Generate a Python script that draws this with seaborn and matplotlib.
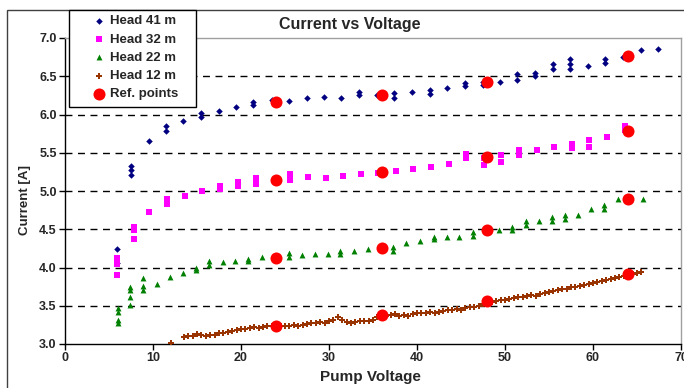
import matplotlib
matplotlib.use("Agg")
import matplotlib.pyplot as plt
import seaborn as sns
from matplotlib.patches import Rectangle

# Head 41 m
h41_v = [5.9, 5.9, 7.5, 7.5, 7.5, 9.5, 11.5, 11.5, 13.4, 15.5, 15.5, 17.5, 19.4,
         21.4, 21.4, 23.5, 25.5, 27.5, 29.4, 31.4, 33.4, 33.4, 35.4, 37.4, 37.4,
         39.4, 41.5, 41.5, 43.4, 45.5, 45.5, 47.5, 47.5, 49.4, 51.4, 51.4, 53.4,
         53.4, 55.5, 55.5, 57.4, 57.4, 57.4, 59.4, 61.4, 61.4, 63.4, 65.4, 67.4]
h41_a = [4.24, 4.06, 5.33, 5.27, 5.21, 5.65, 5.85, 5.78, 5.92, 6.02, 5.97, 6.05, 6.10,
         6.16, 6.13, 6.19, 6.17, 6.21, 6.23, 6.22, 6.29, 6.26, 6.26, 6.28, 6.22,
         6.29, 6.32, 6.27, 6.35, 6.41, 6.37, 6.43, 6.38, 6.43, 6.53, 6.45, 6.54,
         6.50, 6.66, 6.60, 6.73, 6.66, 6.59, 6.63, 6.73, 6.67, 6.75, 6.84, 6.85]

# Head 32 m
h32_v = [5.9, 5.9, 5.9, 7.8, 7.8, 7.8, 9.6, 11.6, 11.6, 13.6, 15.6, 17.6, 17.6,
         19.7, 19.7, 21.7, 21.7, 25.6, 25.6, 27.6, 29.7, 31.6, 33.6, 35.6, 37.6,
         39.6, 41.6, 43.6, 45.6, 45.6, 47.6, 47.6, 49.5, 49.5, 51.6, 51.6, 53.6,
         55.6, 57.6, 57.6, 59.6, 59.6, 61.6, 63.6, 63.6]
h32_a = [4.12, 4.05, 3.90, 4.53, 4.49, 4.37, 4.73, 4.90, 4.83, 4.94, 5.00, 5.07, 5.02,
         5.12, 5.07, 5.17, 5.09, 5.22, 5.14, 5.18, 5.17, 5.19, 5.22, 5.24, 5.26,
         5.29, 5.31, 5.35, 5.49, 5.43, 5.43, 5.34, 5.47, 5.38, 5.53, 5.47, 5.54,
         5.57, 5.62, 5.56, 5.67, 5.58, 5.70, 5.85, 5.80]

# Head 22 m
h22_v = [6.0, 6.0, 6.0, 6.0, 7.4, 7.4, 7.4, 7.4, 8.9, 8.9, 8.9, 10.4, 11.9, 13.4,
         14.9, 14.9, 16.4, 16.4, 17.9, 19.3, 20.8, 20.8, 22.4, 23.9, 25.4, 25.4,
         26.9, 28.4, 29.9, 31.3, 31.3, 32.8, 34.4, 35.9, 37.3, 37.3, 38.8, 40.3,
         41.9, 41.9, 43.4, 44.8, 46.4, 46.4, 47.9, 49.3, 50.8, 50.8, 52.4, 52.4,
         53.9, 55.3, 55.3, 56.8, 56.8, 58.3, 59.8, 61.3, 61.3, 62.8, 64.2, 65.7]
h22_a = [3.47, 3.42, 3.31, 3.27, 3.74, 3.70, 3.61, 3.51, 3.86, 3.76, 3.70, 3.79, 3.87, 3.93,
         4.00, 3.97, 4.08, 4.03, 4.07, 4.08, 4.11, 4.08, 4.14, 4.14, 4.19, 4.14,
         4.16, 4.18, 4.18, 4.21, 4.18, 4.22, 4.24, 4.26, 4.27, 4.22, 4.32, 4.35,
         4.40, 4.37, 4.40, 4.40, 4.47, 4.41, 4.49, 4.49, 4.53, 4.49, 4.61, 4.56,
         4.61, 4.66, 4.61, 4.69, 4.64, 4.69, 4.76, 4.82, 4.77, 4.90, 4.90, 4.90]

# Head 12 m
h12_v = [12.0, 13.5, 14.0, 14.5, 15.0, 15.5, 16.0, 16.5, 17.0, 17.5, 18.0, 18.5, 19.0,
         19.5, 20.0, 20.5, 21.0, 21.5, 22.0, 22.5, 23.0, 23.5, 24.0, 24.5, 25.0,
         25.5, 26.0, 26.5, 27.0, 27.5, 28.0, 28.5, 29.0, 29.5, 30.0, 30.5, 31.0,
         31.5, 32.0, 32.5, 33.0, 33.5, 34.0, 34.5, 35.0, 35.5, 36.0, 36.5, 37.0,
         37.5, 38.0, 38.5, 39.0, 39.5, 40.0, 40.5, 41.0, 41.5, 42.0, 42.5, 43.0,
         43.5, 44.0, 44.5, 45.0, 45.5, 46.0, 46.5, 47.0, 47.5, 48.0, 48.5, 49.0,
         49.5, 50.0, 50.5, 51.0, 51.5, 52.0, 52.5, 53.0, 53.5, 54.0, 54.5, 55.0,
         55.5, 56.0, 56.5, 57.0, 57.5, 58.0, 58.5, 59.0, 59.5, 60.0, 60.5, 61.0,
         61.5, 62.0, 62.5, 63.0, 63.5, 64.0, 64.5, 65.0, 65.5]
h12_a = [3.01, 3.09, 3.10, 3.11, 3.13, 3.12, 3.11, 3.12, 3.12, 3.14, 3.15, 3.16, 3.17,
         3.18, 3.20, 3.19, 3.21, 3.22, 3.21, 3.22, 3.23, 3.23, 3.24, 3.23, 3.24,
         3.24, 3.25, 3.24, 3.25, 3.26, 3.28, 3.28, 3.29, 3.28, 3.30, 3.32, 3.35,
         3.31, 3.29, 3.28, 3.29, 3.30, 3.30, 3.30, 3.32, 3.35, 3.37, 3.37, 3.38,
         3.39, 3.37, 3.38, 3.37, 3.39, 3.40, 3.41, 3.40, 3.42, 3.41, 3.42, 3.43,
         3.44, 3.44, 3.46, 3.45, 3.47, 3.48, 3.49, 3.50, 3.52, 3.55, 3.55, 3.56,
         3.57, 3.58, 3.59, 3.60, 3.61, 3.61, 3.63, 3.64, 3.63, 3.65, 3.67, 3.68,
         3.69, 3.70, 3.72, 3.72, 3.74, 3.75, 3.76, 3.77, 3.79, 3.80, 3.81, 3.83,
         3.84, 3.85, 3.86, 3.87, 3.89, 3.91, 3.92, 3.93, 3.94]

# Reference points
ref_v = [24, 36, 48, 64]
ref_41 = [6.16, 6.25, 6.42, 6.76]
ref_32 = [5.15, 5.25, 5.44, 5.79]
ref_22 = [4.13, 4.26, 4.49, 4.90]
ref_12 = [3.24, 3.38, 3.56, 3.91]

x_ticks = [0, 10, 20, 30, 40, 50, 60, 70]
y_ticks = [3.0, 3.5, 4.0, 4.5, 5.0, 5.5, 6.0, 6.5, 7.0]

sns.set_style("white")
plt.rcParams['font.family'] = ['Liberation Sans', 'DejaVu Sans']
plt.rcParams['font.weight'] = 'bold'

W, H = 684, 388
fig = plt.figure(figsize=(6.84, 3.88), dpi=100)
ax = fig.add_axes([65 / W, (H - 344) / H, 616 / W, 306 / H])

sns.scatterplot(x=h41_v, y=h41_a, marker='D', color='#000080', s=11,
                linewidth=0, label='Head 41 m', ax=ax, zorder=3)
sns.scatterplot(x=h32_v, y=h32_a, marker='s', color='#FF00FF', s=14,
                linewidth=0, label='Head 32 m', ax=ax, zorder=3)
sns.scatterplot(x=h22_v, y=h22_a, marker='^', color='#008000', s=18,
                linewidth=0, label='Head 22 m', ax=ax, zorder=3)
sns.scatterplot(x=h12_v, y=h12_a, marker='P', color='#993300', s=22,
                linewidth=0, label='Head 12 m', ax=ax, zorder=3)
sns.scatterplot(x=ref_v * 4, y=ref_41 + ref_32 + ref_22 + ref_12, marker='o',
                color='#FF0000', s=75, linewidth=0, label='Ref. points', ax=ax, zorder=4)

ax.set_xlim(0, 70)
ax.set_ylim(3.0, 7.0)
ax.set_xticks(x_ticks)
ax.set_yticks(y_ticks)
ax.set_yticklabels([f"{v:.1f}" for v in y_ticks])
ax.tick_params(axis='both', direction='out', length=4, width=1, labelsize=9,
               pad=2, color='black', left=True, bottom=True)
for lab in ax.get_xticklabels() + ax.get_yticklabels():
    lab.set_fontweight('bold')

for v in y_ticks[1:-1]:
    ax.axhline(v, color='black', lw=1, ls=(0, (5, 4)), zorder=1)

ax.spines['left'].set_color('black')
ax.spines['bottom'].set_color('black')
ax.spines['top'].set_color('#a0a0a0')
ax.spines['right'].set_color('#a0a0a0')
for s in ax.spines.values():
    s.set_linewidth(1)

ax.set_xlabel('')
ax.set_ylabel('')
fig.text(350 / W, 1 - 24 / H, 'Current vs Voltage', ha='center', va='center',
         fontsize=11.5, fontweight='bold')
fig.text(25 / W, 1 - 200 / H, 'Current [A]', ha='center', va='center',
         rotation=90, fontsize=9.5, fontweight='bold')
fig.text(370 / W, 1 - 377 / H, 'Pump Voltage', ha='center', va='center',
         fontsize=11, fontweight='bold')

# outer chart border (only top and left visible)
fig.patches.append(Rectangle((7 / W, -0.1), 1.2, 1 - 10 / H + 0.1,
                             transform=fig.transFigure, fill=False,
                             edgecolor='#404040', lw=1, zorder=0))
# legend box
fig.patches.append(Rectangle((69 / W, 1 - 107 / H), 127 / W, 97 / H,
                             transform=fig.transFigure, facecolor='white',
                             edgecolor='black', lw=1, zorder=3))

handles, labels = ax.get_legend_handles_labels()
if ax.get_legend() is not None:
    ax.get_legend().remove()
fig.legend(handles, labels, loc='upper left',
           bbox_to_anchor=(92.5 / W, 1 - 15 / H), frameon=False,
           handlelength=1.0, handletextpad=0.3, borderpad=0, borderaxespad=0,
           labelspacing=0.46, prop={'size': 9.5, 'weight': 'bold'})

fig.savefig('out.png', dpi=100)
